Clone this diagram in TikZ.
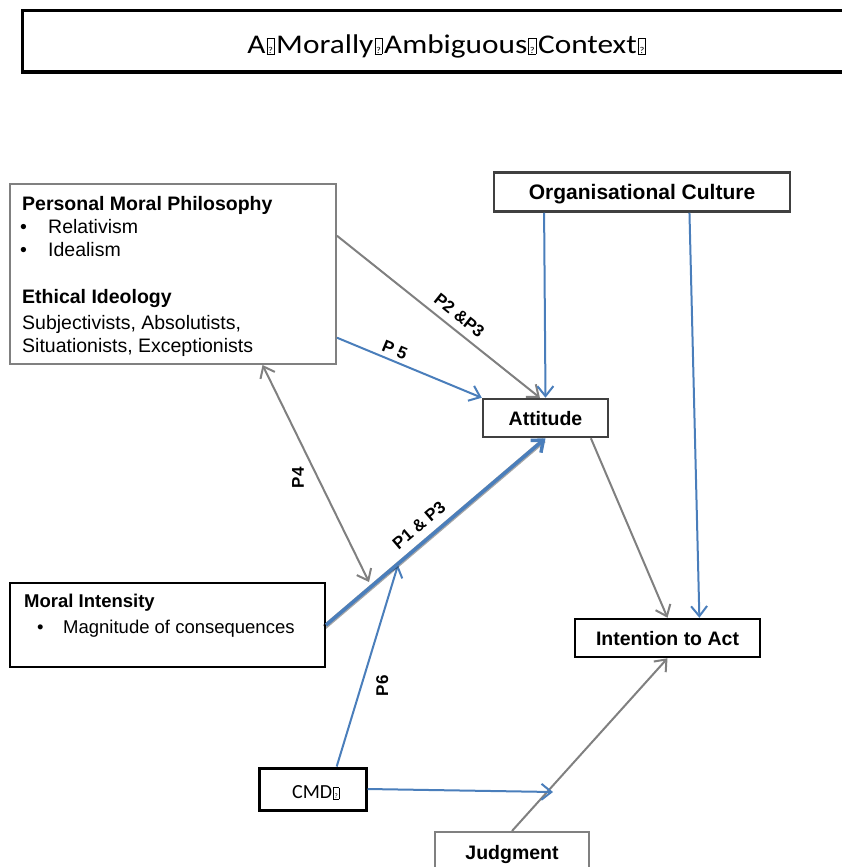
\documentclass[tikz,border=0pt]{standalone}
\usepackage{fontspec}
\usepackage{graphicx}
\setmainfont{Liberation Sans}
\newfontfamily\calibri{Carlito}
\usetikzlibrary{arrows.meta,calc}

\definecolor{linkblue}{RGB}{74,126,187}
\definecolor{linkgray}{RGB}{128,128,128}
\definecolor{darkframe}{RGB}{64,64,64}

% placeholder glyph: a framed question mark (#1 size of the mark, #2 inner height)
\newcommand\qglyph[2]{\hspace{1pt}{\setlength{\fboxsep}{0.7pt}\setlength{\fboxrule}{0.6pt}\fbox{\rule{0pt}{#2}\fontsize{#1}{#1}\selectfont ?}}\hspace{1.5pt}}

\begin{document}
\begin{tikzpicture}[x=1pt,y=-1pt,
  frame/.style={draw, rectangle, inner sep=0pt, line width=2pt},
  boxlabel/.style={font=\fontsize{19.5}{23}\selectfont\bfseries, text height=14pt, text depth=0pt},
  body/.style={anchor=base west, inner sep=0pt, font=\fontsize{19.5}{23}\selectfont},
  bodybold/.style={body, font=\fontsize{19.5}{23}\selectfont\bfseries},
  tip/.style={-{Straight Barb[length=10pt,width=16pt]}},
  bothtips/.style={{Straight Barb[length=10pt,width=16pt]}-{Straight Barb[length=10pt,width=16pt]}},
  bline/.style={draw=linkblue, line width=2pt},
  gline/.style={draw=linkgray, line width=2pt},
  plabel/.style={font=\fontsize{17}{17}\selectfont\bfseries, inner sep=1pt}]

\useasboundingbox (0,0) rectangle (842,867);

% context banner
\node[frame, line width=3pt, minimum width=828pt, minimum height=61pt] (ctx) at (436,41.5) {};
\node[font=\calibri\fontsize{27}{27}\selectfont, inner sep=0pt, anchor=base] (ctxtext) at (447.5,53)
  {\scalebox{1.16}[1]{A\qglyph{9}{14pt}Morally\qglyph{9}{14pt}Ambiguous\qglyph{9}{14pt}Context\qglyph{9}{14pt}}};

% personal moral philosophy / ethical ideology
\node[frame, draw=linkgray, minimum width=326pt, minimum height=180pt] (pmp) at (173,274) {};
\node[bodybold] (pmph) at (22,210) {Personal Moral Philosophy};
\node[body] (pmpb1) at (20,233) {\textbullet};
\node[body] (pmpt1) at (48,233) {Relativism};
\node[body] (pmpb2) at (20,256) {\textbullet};
\node[body] (pmpt2) at (48,256) {Idealism};
\node[bodybold] (eih) at (22,303) {Ethical Ideology};
\node[body] (eit1) at (22,329) {Subjectivists, Absolutists,};
\node[body] (eit2) at (22,352) {Situationists, Exceptionists};

% organisational culture
\node[frame, draw=darkframe, line width=2.5pt, minimum width=296pt, minimum height=39pt,
  boxlabel, font=\fontsize{21}{21}\selectfont\bfseries, text height=15pt] (org) at (642,192) {Organisational Culture};

% attitude
\node[frame, draw=darkframe, line width=2.5pt, minimum width=125pt, minimum height=38pt, boxlabel] (att) at (545.5,418) {Attitude};

% intention to act
\node[frame, line width=2.5pt, minimum width=185pt, minimum height=38pt, boxlabel] (int) at (667.5,638) {Intention to Act};

% moral intensity
\node[frame, minimum width=315pt, minimum height=84pt] (mi) at (167.5,625) {};
\node[bodybold, font=\fontsize{18.5}{22}\selectfont\bfseries] (mih) at (24,607) {Moral Intensity};
\node[body, font=\fontsize{18.5}{22}\selectfont] (mib) at (37,633) {\textbullet};
\node[body, font=\fontsize{18.5}{22}\selectfont] (mit) at (63,633) {Magnitude of consequences};

% CMD
\node[frame, line width=3pt, minimum width=107pt, minimum height=42pt] (cmd) at (312.5,789) {};
\node[font=\calibri\fontsize{20}{20}\selectfont, inner sep=0pt, anchor=base west] (cmdtext) at (292,798) {CMD\qglyph{7}{9.5pt}};

% judgment
\node[frame, draw=linkgray, minimum width=154pt, minimum height=40pt, boxlabel] (jud) at (512,852) {Judgment};

% free ends of connectors
\coordinate (cmdend) at (553,792);
\coordinate (p6end) at (398,565);
\coordinate (p4end) at (369,582);

% connectors
\draw[gline, tip] ($(pmp.north east)!0.29!(pmp.south east)$) -- ($(att.north west)!0.456!(att.north east)$)
  node[plabel, pos=0.56, sloped, above=6pt] (l23) {P2 \&P3};
\draw[bline, tip] ($(pmp.north east)!0.85!(pmp.south east)$) -- (att.north west)
  node[plabel, pos=0.37, sloped, above=3pt] (l5) {P 5};
\draw[bline, tip] ($(org.south west)!0.172!(org.south east)$) -- (att.north);
\draw[bline, tip] ($(org.south west)!0.659!(org.south east)$) -- ($(int.north west)!0.67!(int.north east)$);
\draw[gline, tip] ($(att.south west)!0.856!(att.south east)$) -- (int.north);
\draw[gline, tip] (jud.north) -- (int.south);
\draw[bline, tip] (cmd.east) -- (cmdend);
\draw[bline, tip] ($(cmd.north west)!0.72!(cmd.north east)$) -- (p6end)
  node[plabel, pos=0.4, rotate=90, below=13pt] (l6) {P6};
\draw[gline, bothtips] ($(pmp.south west)!0.773!(pmp.south east)$) -- (p4end)
  node[plabel, pos=0.52, rotate=90, above=12pt] (l4) {P4};

% main path with drop shadow
\draw[draw=black, opacity=0.35, line width=5pt, transform canvas={shift={(-1.5pt,-2pt)}}] (mi.east) -- (att.south);
\draw[bline, line width=3.5pt, tip] (mi.east) -- (att.south)
  node[plabel, pos=0.47, sloped, above=7pt] (l13) {P1 \& P3};

\end{tikzpicture}
\end{document}
